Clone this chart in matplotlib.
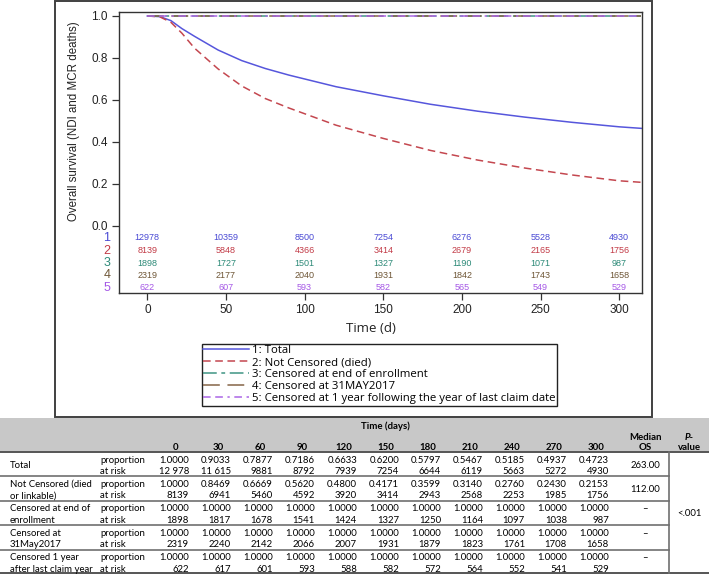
import matplotlib
matplotlib.use("Agg")
import matplotlib.pyplot as plt
from matplotlib.lines import Line2D
from matplotlib.patches import Rectangle

# ---------------- data ----------------
curve_days = [0, 8, 15, 22, 30, 45, 60, 75, 90, 120, 150, 180, 210, 240, 270, 300, 314]
surv_total = [1.0, 0.997, 0.978, 0.94, 0.9033, 0.838, 0.7877, 0.75, 0.7186, 0.6633,
              0.6200, 0.5797, 0.5467, 0.5185, 0.4937, 0.4723, 0.465]
surv_died = [1.0, 0.996, 0.97, 0.918, 0.8469, 0.748, 0.6669, 0.607, 0.5620, 0.4800,
             0.4171, 0.3599, 0.3140, 0.2760, 0.2430, 0.2153, 0.208]
flat_days = [0, 314]
surv_enroll = [1.0, 1.0]
surv_may2017 = [1.0, 1.0]
surv_1year = [1.0, 1.0]

legend_labels = ["1: Total", "2: Not Censored (died)", "3: Censored at end of enrollment",
                 "4: Censored at 31MAY2017",
                 "5: Censored at 1 year following the year of last claim date"]

risk_days = [0, 50, 100, 150, 200, 250, 300]
risk_total = [12978, 10359, 8500, 7254, 6276, 5528, 4930]
risk_died = [8139, 5848, 4366, 3414, 2679, 2165, 1756]
risk_enroll = [1898, 1727, 1501, 1327, 1190, 1071, 987]
risk_may2017 = [2319, 2177, 2040, 1931, 1842, 1743, 1658]
risk_1year = [622, 607, 593, 582, 565, 549, 529]

x_ticks = [0, 50, 100, 150, 200, 250, 300]
y_ticks = [0.0, 0.2, 0.4, 0.6, 0.8, 1.0]

table_days = [0, 30, 60, 90, 120, 150, 180, 210, 240, 270, 300]
table_groups = ["Total", "Not Censored (died\nor linkable)", "Censored at end of\nenrollment",
                "Censored at\n31May2017", "Censored 1 year\nafter last claim year"]
prop_total = [1.0000, 0.9033, 0.7877, 0.7186, 0.6633, 0.6200, 0.5797, 0.5467, 0.5185, 0.4937, 0.4723]
prop_died = [1.0000, 0.8469, 0.6669, 0.5620, 0.4800, 0.4171, 0.3599, 0.3140, 0.2760, 0.2430, 0.2153]
prop_enroll = [1.0000, 1.0000, 1.0000, 1.0000, 1.0000, 1.0000, 1.0000, 1.0000, 1.0000, 1.0000, 1.0000]
prop_may2017 = [1.0000, 1.0000, 1.0000, 1.0000, 1.0000, 1.0000, 1.0000, 1.0000, 1.0000, 1.0000, 1.0000]
prop_1year = [1.0000, 1.0000, 1.0000, 1.0000, 1.0000, 1.0000, 1.0000, 1.0000, 1.0000, 1.0000, 1.0000]
atrisk_total = [12978, 11615, 9881, 8792, 7939, 7254, 6644, 6119, 5663, 5272, 4930]
atrisk_died = [8139, 6941, 5460, 4592, 3920, 3414, 2943, 2568, 2253, 1985, 1756]
atrisk_enroll = [1898, 1817, 1678, 1541, 1424, 1327, 1250, 1164, 1097, 1038, 987]
atrisk_may2017 = [2319, 2240, 2142, 2066, 2007, 1931, 1879, 1823, 1761, 1708, 1658]
atrisk_1year = [622, 617, 601, 593, 588, 582, 572, 564, 552, 541, 529]
median_os = ["263.00", "112.00", "\u2013", "\u2013", "\u2013"]
p_value = "<.001"

# ---------------- styles ----------------
line_colors = ["#5656dc", "#c4474f", "#3f9484", "#856447", "#ab66e6"]
risk_colors = ["#4a4ad4", "#c23a46", "#2d8a78", "#6e5636", "#a558e6"]
line_styles = ["-", (0, (5, 3)), (0, (9, 3, 2.5, 3)), (0, (11, 5)), (0, (5, 3, 5, 3, 1.5, 3))]
chart_font = "Liberation Sans"
legend_font = "Open Sans"
table_font = "Lato"

W, H = 709, 575
fig = plt.figure(figsize=(W / 100, H / 100), dpi=100)


def fx(x):
    return x / W


def fy(y):
    return 1 - y / H


# outer box around the chart
fig.add_artist(Rectangle((fx(55), fy(417)), fx(652) - fx(55), fy(1) - fy(417),
                         transform=fig.transFigure, fill=False, ec="#404040", lw=1.4))

ax = fig.add_axes([fx(119), fy(293), fx(642) - fx(119), fy(12) - fy(293)])
y0_px, y1_px = 226, 16  # pixel rows of survival 0 and 1


def py2data(p):
    return (y0_px - p) / (y0_px - y1_px)


ax.set_ylim(py2data(293), py2data(12))
ax.set_xlim(-18, 314.5)

series = [(curve_days, surv_total), (curve_days, surv_died), (flat_days, surv_enroll),
          (flat_days, surv_may2017), (flat_days, surv_1year)]
handles = []
for (t, s), c, ls in zip(series, line_colors, line_styles):
    ax.plot(t, s, color=c, ls=ls, lw=1.1)
    handles.append(Line2D([], [], color=c, ls=ls, lw=1.1))

risk_rows = [risk_total, risk_died, risk_enroll, risk_may2017, risk_1year]
risk_py = [238, 250.5, 263, 275.5, 288]
for i, (row, c, p) in enumerate(zip(risk_rows, risk_colors, risk_py)):
    for d, n in zip(risk_days, row):
        ax.text(d, py2data(p), str(n), color=c, fontsize=6.5, family=chart_font,
                ha="center", va="center")
    fig.text(fx(107), fy(p), str(i + 1), color=c, fontsize=9, family=chart_font,
             ha="center", va="center")

for sp in ax.spines.values():
    sp.set_color("#333333")
    sp.set_linewidth(1.0)
ax.set_xticks(x_ticks)
ax.set_xticklabels([str(v) for v in x_ticks], fontsize=8.5, family=chart_font, color="#222222")
ax.set_yticks(y_ticks)
ax.set_yticklabels([f"{v:.1f}" for v in y_ticks], fontsize=8.5, family=chart_font, color="#222222")
ax.tick_params(direction="out", length=5, width=0.9, color="#333333", pad=3)

fig.text(fx(74), fy(121), "Overall survival (NDI and MCR deaths)", rotation=90,
         ha="center", va="center", fontsize=8.3, family=chart_font, color="#222222")
fig.text(fx(371), fy(328), "Time (d)", ha="center", va="center", fontsize=9.5,
         family=legend_font, color="#222222")

leg = fig.legend(handles, legend_labels, loc="upper left", bbox_to_anchor=(fx(202), fy(344)),
                 frameon=True, fancybox=False, edgecolor="#222222", framealpha=1,
                 prop={"family": legend_font, "size": 8.2}, handlelength=4.0,
                 handletextpad=0.3, labelspacing=0.09, borderpad=0.12, borderaxespad=0)
leg.get_frame().set_linewidth(1.0)

# ---------------- table ----------------
fig.add_artist(Rectangle((0, fy(452)), 1, fy(418) - fy(452), transform=fig.transFigure,
                         fc="#c8c8c8", ec="none"))


def hline(y, x0=0, x1=W, lw=1.0, c="#6f6f6f"):
    fig.add_artist(Line2D([fx(x0), fx(x1)], [fy(y), fy(y)], transform=fig.transFigure,
                          color=c, lw=lw))


row_tops = [452, 476, 500.5, 525, 549.5, 572.5]
hline(452, lw=1.4, c="#555555")
for y in row_tops[1:-1]:
    hline(y, 0, 669, lw=1.2)
hline(572.5, lw=1.4, c="#555555")
fig.add_artist(Line2D([fx(669), fx(669)], [fy(452), fy(572.5)], transform=fig.transFigure,
                      color="#6f6f6f", lw=1.2))

tfs = 6.9
col_right = [189 + 42 * k for k in range(len(table_days))]
fig.text(fx(385), fy(426), "Time (days)", ha="center", va="center", fontsize=tfs,
         family=table_font, weight="bold")
for d, rx in zip(table_days, col_right):
    fig.text(fx(rx - 13), fy(447), str(d), ha="center", va="center", fontsize=tfs,
             family=table_font, weight="bold")
fig.text(fx(645), fy(437), "Median", ha="center", va="center", fontsize=tfs,
         family=table_font, weight="bold")
fig.text(fx(645), fy(447), "OS", ha="center", va="center", fontsize=tfs,
         family=table_font, weight="bold")
fig.text(fx(689), fy(437), "P-", ha="center", va="center", fontsize=tfs,
         family=table_font, weight="bold", style="italic")
fig.text(fx(689), fy(447), "value", ha="center", va="center", fontsize=tfs,
         family=table_font, weight="bold")


def fmt_n(n):
    return f"{n:,}".replace(",", " ") if n >= 10000 else str(n)


props = [prop_total, prop_died, prop_enroll, prop_may2017, prop_1year]
risks = [atrisk_total, atrisk_died, atrisk_enroll, atrisk_may2017, atrisk_1year]
for g, (name, pr, rk, med) in enumerate(zip(table_groups, props, risks, median_os)):
    top, bot = row_tops[g], row_tops[g + 1]
    y_p, y_r = top + 8.3, top + 19.8
    lines = name.split("\n")
    if len(lines) == 1:
        fig.text(fx(10), fy((top + bot) / 2 + 1.5), lines[0], ha="left", va="center",
                 fontsize=tfs, family=table_font)
    else:
        fig.text(fx(10), fy(y_p), lines[0], ha="left", va="center", fontsize=tfs, family=table_font)
        fig.text(fx(10), fy(y_r), lines[1], ha="left", va="center", fontsize=tfs, family=table_font)
    fig.text(fx(100), fy(y_p), "proportion", ha="left", va="center", fontsize=tfs, family=table_font)
    fig.text(fx(100), fy(y_r), "at risk", ha="left", va="center", fontsize=tfs, family=table_font)
    for rx, p, n in zip(col_right, pr, rk):
        fig.text(fx(rx), fy(y_p), f"{p:.4f}", ha="right", va="center", fontsize=tfs,
                 family=table_font)
        fig.text(fx(rx), fy(y_r), fmt_n(n), ha="right", va="center", fontsize=tfs,
                 family=table_font)
    if med == "\u2013":
        fig.text(fx(645), fy(y_p), med, ha="center", va="center", fontsize=tfs, family=table_font)
    else:
        fig.text(fx(645), fy((top + bot) / 2 + 1.5), med, ha="center", va="center", fontsize=tfs,
                 family=table_font)

fig.text(fx(689), fy(513), p_value, ha="center", va="center", fontsize=tfs, family=table_font)

fig.savefig("out.png", dpi=100)
